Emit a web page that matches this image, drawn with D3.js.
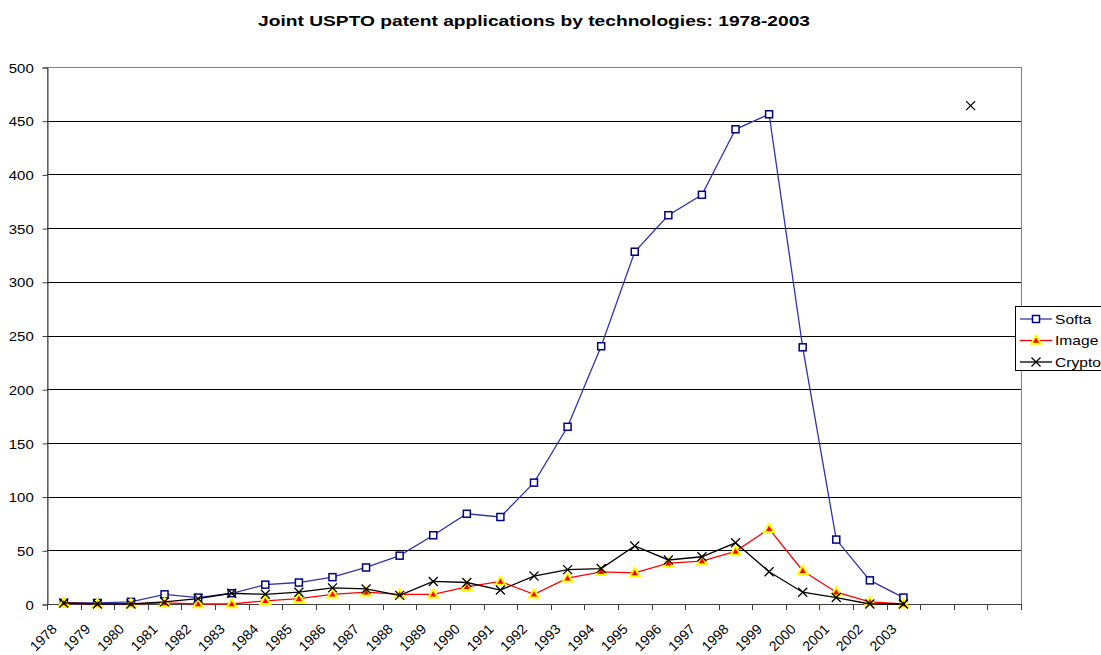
<!DOCTYPE html>
<html>
<head>
<meta charset="utf-8">
<script src="https://cdn.jsdelivr.net/npm/d3@7"></script>
<style>
  body { margin: 0; background: #fff; }
  text { font-family: Arial, "Liberation Sans", sans-serif; }
</style>
</head>
<body>
<div id="chart"></div>
<script>
// categories (last three have no label in the original)
var categories = ["1978", "1979", "1980", "1981", "1982", "1983", "1984", "1985", "1986",
  "1987", "1988", "1989", "1990", "1991", "1992", "1993", "1994", "1995", "1996", "1997",
  "1998", "1999", "2000", "2001", "2002", "2003", "", "", ""];

var softaVals = [1, 1, 2, 9, 6, 10, 18, 20, 25, 34, 45, 64, 84, 81, 113, 165, 240, 328, 362, 381,
  442, 456, 239, 60, 22, 6];
var imageVals = [1, 0, 0, 1, 0, 0, 3, 5, 9, 11, 9, 9, 16, 21, 9, 24, 30, 29, 38, 40,
  49, 70, 31, 11, 2, 0];
var cryptoVals = [1, 0, 0, 2, 5, 10, 9, 11, 15, 14, 8, 21, 20, 13, 26, 32, 33, 54, 41, 44,
  57, 30, 11, 6, 0, 0, null, 464];

var yTicks = [0, 50, 100, 150, 200, 250, 300, 350, 400, 450, 500];

var svgW = 1101, svgH = 655;
var plot = { left: 47, right: 1021, top: 67, bottom: 604 };
var stretch = 1.2; // the original picture is wider than tall text would suggest

var svg = d3.select("#chart").append("svg")
  .attr("width", svgW)
  .attr("height", svgH);

var xScale = d3.scaleBand()
  .domain(d3.range(categories.length))
  .range([plot.left, plot.right]);

var yScale = d3.scaleLinear()
  .domain([0, 500])
  .range([plot.bottom, plot.top]);

function cx(i) { return xScale(i) + xScale.bandwidth() / 2; }

// title
svg.append("text")
  .attr("transform", "translate(" + ((plot.left + plot.right) / 2) + ",26) scale(1.28,1)")
  .attr("text-anchor", "middle")
  .attr("font-size", "15px")
  .attr("font-weight", "bold")
  .text("Joint USPTO patent applications by technologies: 1978-2003");

// plot frame
svg.append("rect")
  .attr("x", plot.left + 0.5)
  .attr("y", plot.top + 0.5)
  .attr("width", plot.right - plot.left)
  .attr("height", plot.bottom - plot.top)
  .style("fill", "none")
  .style("stroke", "#808080");

// gridlines
svg.append("g")
  .selectAll("line")
  .data(yTicks.filter(function (d) { return d > 0 && d < 500; }))
  .enter()
  .append("line")
  .attr("x1", plot.left)
  .attr("x2", plot.right)
  .attr("y1", function (d) { return Math.round(yScale(d)) + 0.5; })
  .attr("y2", function (d) { return Math.round(yScale(d)) + 0.5; })
  .style("stroke", "#000")
  .style("stroke-width", 1);

// y axis
var yAxis = d3.axisLeft(yScale).tickValues(yTicks).tickSize(5).tickPadding(7);
var gy = svg.append("g")
  .attr("transform", "translate(" + (plot.left + 0.5) + ",0.5)")
  .call(yAxis);
gy.select(".domain").style("stroke", "#404040");
gy.selectAll(".tick line").style("stroke", "#404040");
gy.selectAll("text")
  .attr("font-size", "13px")
  .style("font-family", "Arial, 'Liberation Sans', sans-serif")
  .attr("fill", "#000")
  .attr("dy", "0.36em")
  .attr("transform", "scale(" + 1.15 + ",1)");

// x axis line, ticks between categories
svg.append("line")
  .attr("x1", plot.left)
  .attr("x2", plot.right + 1)
  .attr("y1", plot.bottom + 0.5)
  .attr("y2", plot.bottom + 0.5)
  .style("stroke", "#404040");

svg.append("g")
  .selectAll("line")
  .data(d3.range(categories.length + 1))
  .enter()
  .append("line")
  .attr("x1", function (i) { return Math.round(plot.left + i * xScale.step()) + 0.5; })
  .attr("x2", function (i) { return Math.round(plot.left + i * xScale.step()) + 0.5; })
  .attr("y1", plot.bottom)
  .attr("y2", plot.bottom + 6)
  .style("stroke", "#404040");

// x labels
svg.append("g")
  .selectAll("text")
  .data(d3.range(categories.length))
  .enter()
  .append("text")
  .attr("transform", function (i) {
    return "translate(" + (cx(i) - 6) + "," + (plot.bottom + 26) + ") rotate(-45)";
  })
  .attr("text-anchor", "end")
  .attr("font-size", "14px")
  .text(function (i) { return categories[i]; });

var line = d3.line()
  .defined(function (d) { return d != null; })
  .x(function (d, i) { return cx(i); })
  .y(function (d) { return yScale(d); });

// Softa
svg.append("path")
  .datum(softaVals)
  .attr("d", line)
  .style("fill", "none")
  .style("stroke", "#3333aa")
  .style("stroke-width", 1.3);

svg.append("g")
  .selectAll("rect")
  .data(softaVals)
  .enter()
  .append("rect")
  .attr("x", function (d, i) { return cx(i) - 3.5; })
  .attr("y", function (d) { return yScale(d) - 3.5; })
  .attr("width", 7)
  .attr("height", 7)
  .style("fill", "#fff")
  .style("stroke", "#000080")
  .style("stroke-width", 1.5);

// Image
svg.append("path")
  .datum(imageVals)
  .attr("d", line)
  .style("fill", "none")
  .style("stroke", "#ff0000")
  .style("stroke-width", 1.3);

var tri = d3.symbol().type(d3.symbolTriangle).size(40);
svg.append("g")
  .selectAll("path")
  .data(imageVals)
  .enter()
  .append("path")
  .attr("d", tri)
  .attr("transform", function (d, i) { return "translate(" + cx(i) + "," + (yScale(d) + 0.5) + ")"; })
  .style("fill", "#ff0000")
  .style("stroke", "#ffff00")
  .style("stroke-width", 2);

// Crypto
svg.append("path")
  .datum(cryptoVals)
  .attr("d", line)
  .style("fill", "none")
  .style("stroke", "#000")
  .style("stroke-width", 1.3);

function xMark(sel) {
  sel.append("path")
    .attr("d", "M-4.5,-4.5L4.5,4.5M-4.5,4.5L4.5,-4.5")
    .style("fill", "none")
    .style("stroke", "#000")
    .style("stroke-width", 1.3);
}

svg.append("g")
  .selectAll("g")
  .data(cryptoVals.map(function (d, i) { return { v: d, i: i }; }).filter(function (d) { return d.v != null; }))
  .enter()
  .append("g")
  .attr("transform", function (d) { return "translate(" + cx(d.i) + "," + yScale(d.v) + ")"; })
  .call(xMark);

// legend
var legend = svg.append("g").attr("transform", "translate(1015,306)");
legend.append("rect")
  .attr("x", 0.5)
  .attr("y", 0.5)
  .attr("width", 92)
  .attr("height", 64)
  .style("fill", "#fff")
  .style("stroke", "#000");

var names = ["Softa", "Image", "Crypto"];
var colors = ["#3333aa", "#ff0000", "#000"];
names.forEach(function (n, k) {
  var y = 13 + k * 21.5;
  legend.append("line")
    .attr("x1", 5).attr("x2", 37)
    .attr("y1", y).attr("y2", y)
    .style("stroke", colors[k])
    .style("stroke-width", 1.3);
  if (k === 0) {
    legend.append("rect")
      .attr("x", 17.5).attr("y", y - 3.5).attr("width", 7).attr("height", 7)
      .style("fill", "#fff").style("stroke", "#000080").style("stroke-width", 1.5);
  } else if (k === 1) {
    legend.append("path")
      .attr("d", tri)
      .attr("transform", "translate(21," + (y + 0.5) + ")")
      .style("fill", "#ff0000").style("stroke", "#ffff00").style("stroke-width", 2);
  } else {
    legend.append("g").attr("transform", "translate(21," + y + ")").call(xMark);
  }
  legend.append("text")
    .attr("transform", "translate(40," + y + ") scale(" + stretch + ",1)")
    .attr("dy", "0.36em")
    .attr("font-size", "13px")
    .text(n);
});
</script>
</body>
</html>
